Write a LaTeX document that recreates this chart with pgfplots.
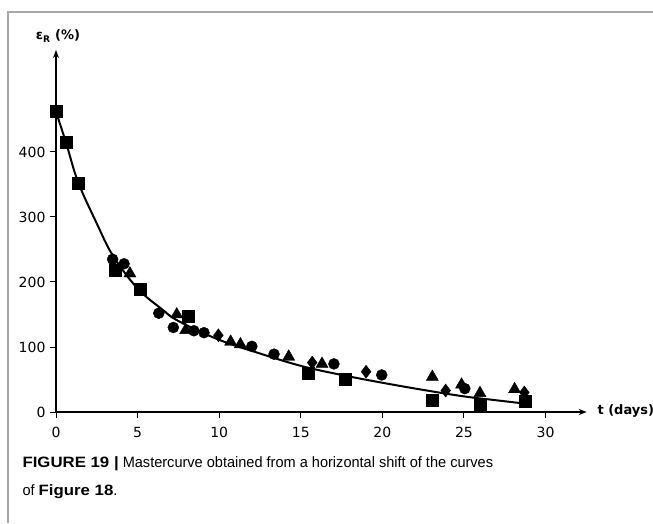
\documentclass[border=0pt]{standalone}
\usepackage{fontspec}
\setmainfont{DejaVu Sans}
\newfontfamily\capfont[FakeStretch=0.97]{Liberation Sans}
\newfontfamily\capbold[FakeStretch=1.12]{Liberation Sans Bold}
\usepackage{pgfplots}
\pgfplotsset{compat=1.18}
\usetikzlibrary{arrows.meta}

\pgfplotstableread{
x y
0 462
0.63 415
1.35 352
3.6 218
5.15 189
8.1 148
15.46 60
17.7 50
23.06 18.5
25.98 10
28.74 16
}\squares
\pgfplotstableread{
x y
3.47 235
4.17 228
6.3 152
7.19 130
8.45 125
9.07 122
12.0 101
13.36 89
17.03 74
19.96 57
25.05 36
}\circles
\pgfplotstableread{
x y
4.53 213
7.4 150
7.95 126
10.7 108
11.3 104
14.26 85
16.3 74
23.06 54
24.85 42
25.98 29
28.1 35
}\triangles
\pgfplotstableread{
x y
9.95 118
15.7 76
19.0 62
23.88 33
28.7 30
}\diamonds
\pgfplotstableread{
x y
0 462
0.63 413
1.35 354
2.5 290
3.5 240
5 190
6.5 158
7.5 140
10 111
12.5 90
15 71
17.5 57
20 45
22.5 34
25 24
27 18
28.7 13
}\fit

\begin{document}
\begin{tikzpicture}[x=1pt,y=1pt]
\path[use as bounding box] (0,0) rectangle (653,523);
\draw[gray!70, line width=1.5pt] (8,0) -- (8,511) -- (653,511);
\begin{axis}[
  at={(56pt,111pt)}, anchor=origin,
  scale only axis, width=530.7pt, height=362pt,
  xmin=0, xmax=32.52, ymin=0, ymax=556.9,
  axis lines=left,
  axis line style={line width=1.3pt, -{Stealth[length=8pt,width=6pt]}},
  xtick={0,5,...,30}, ytick={0,100,...,400},
  tick align=outside, major tick length=6pt,
  tick style={black, line width=1pt},
  tick label style={font=\fontsize{14}{14}\selectfont},
  xticklabel style={yshift=-6pt},
  yticklabel style={xshift=-1pt},
  /pgf/number format/assume math mode=true,
  clip=false,
]
\addplot[black, line width=2pt, smooth, tension=0.6, no marks] table {\fit};
\addplot[only marks, mark=square*, mark size=6pt, black] table {\squares};
\addplot[only marks, mark=*, mark size=5.5pt, black] table {\circles};
\addplot[only marks, mark=triangle*, mark size=7pt, black] table {\triangles};
\addplot[only marks, mark=diamond*, mark size=6.5pt, black] table {\diamonds};
\end{axis}
\node[anchor=west, font=\bfseries\fontsize{13}{13}\selectfont] at (594,112) {t (days)};
\node[font=\bfseries\fontsize{13}{13}\selectfont] at (58,487) {ε\textsubscript{R} (\%)};
\node[anchor=base west, font=\capfont\fontsize{15}{20}\selectfont] at (19,56) {{\capbold FIGURE 19 |} Mastercurve obtained from a horizontal shift of the curves};
\node[anchor=base west, font=\capfont\fontsize{15}{20}\selectfont] at (19,28) {of {\capbold Figure 18}.};
\end{tikzpicture}
\end{document}
